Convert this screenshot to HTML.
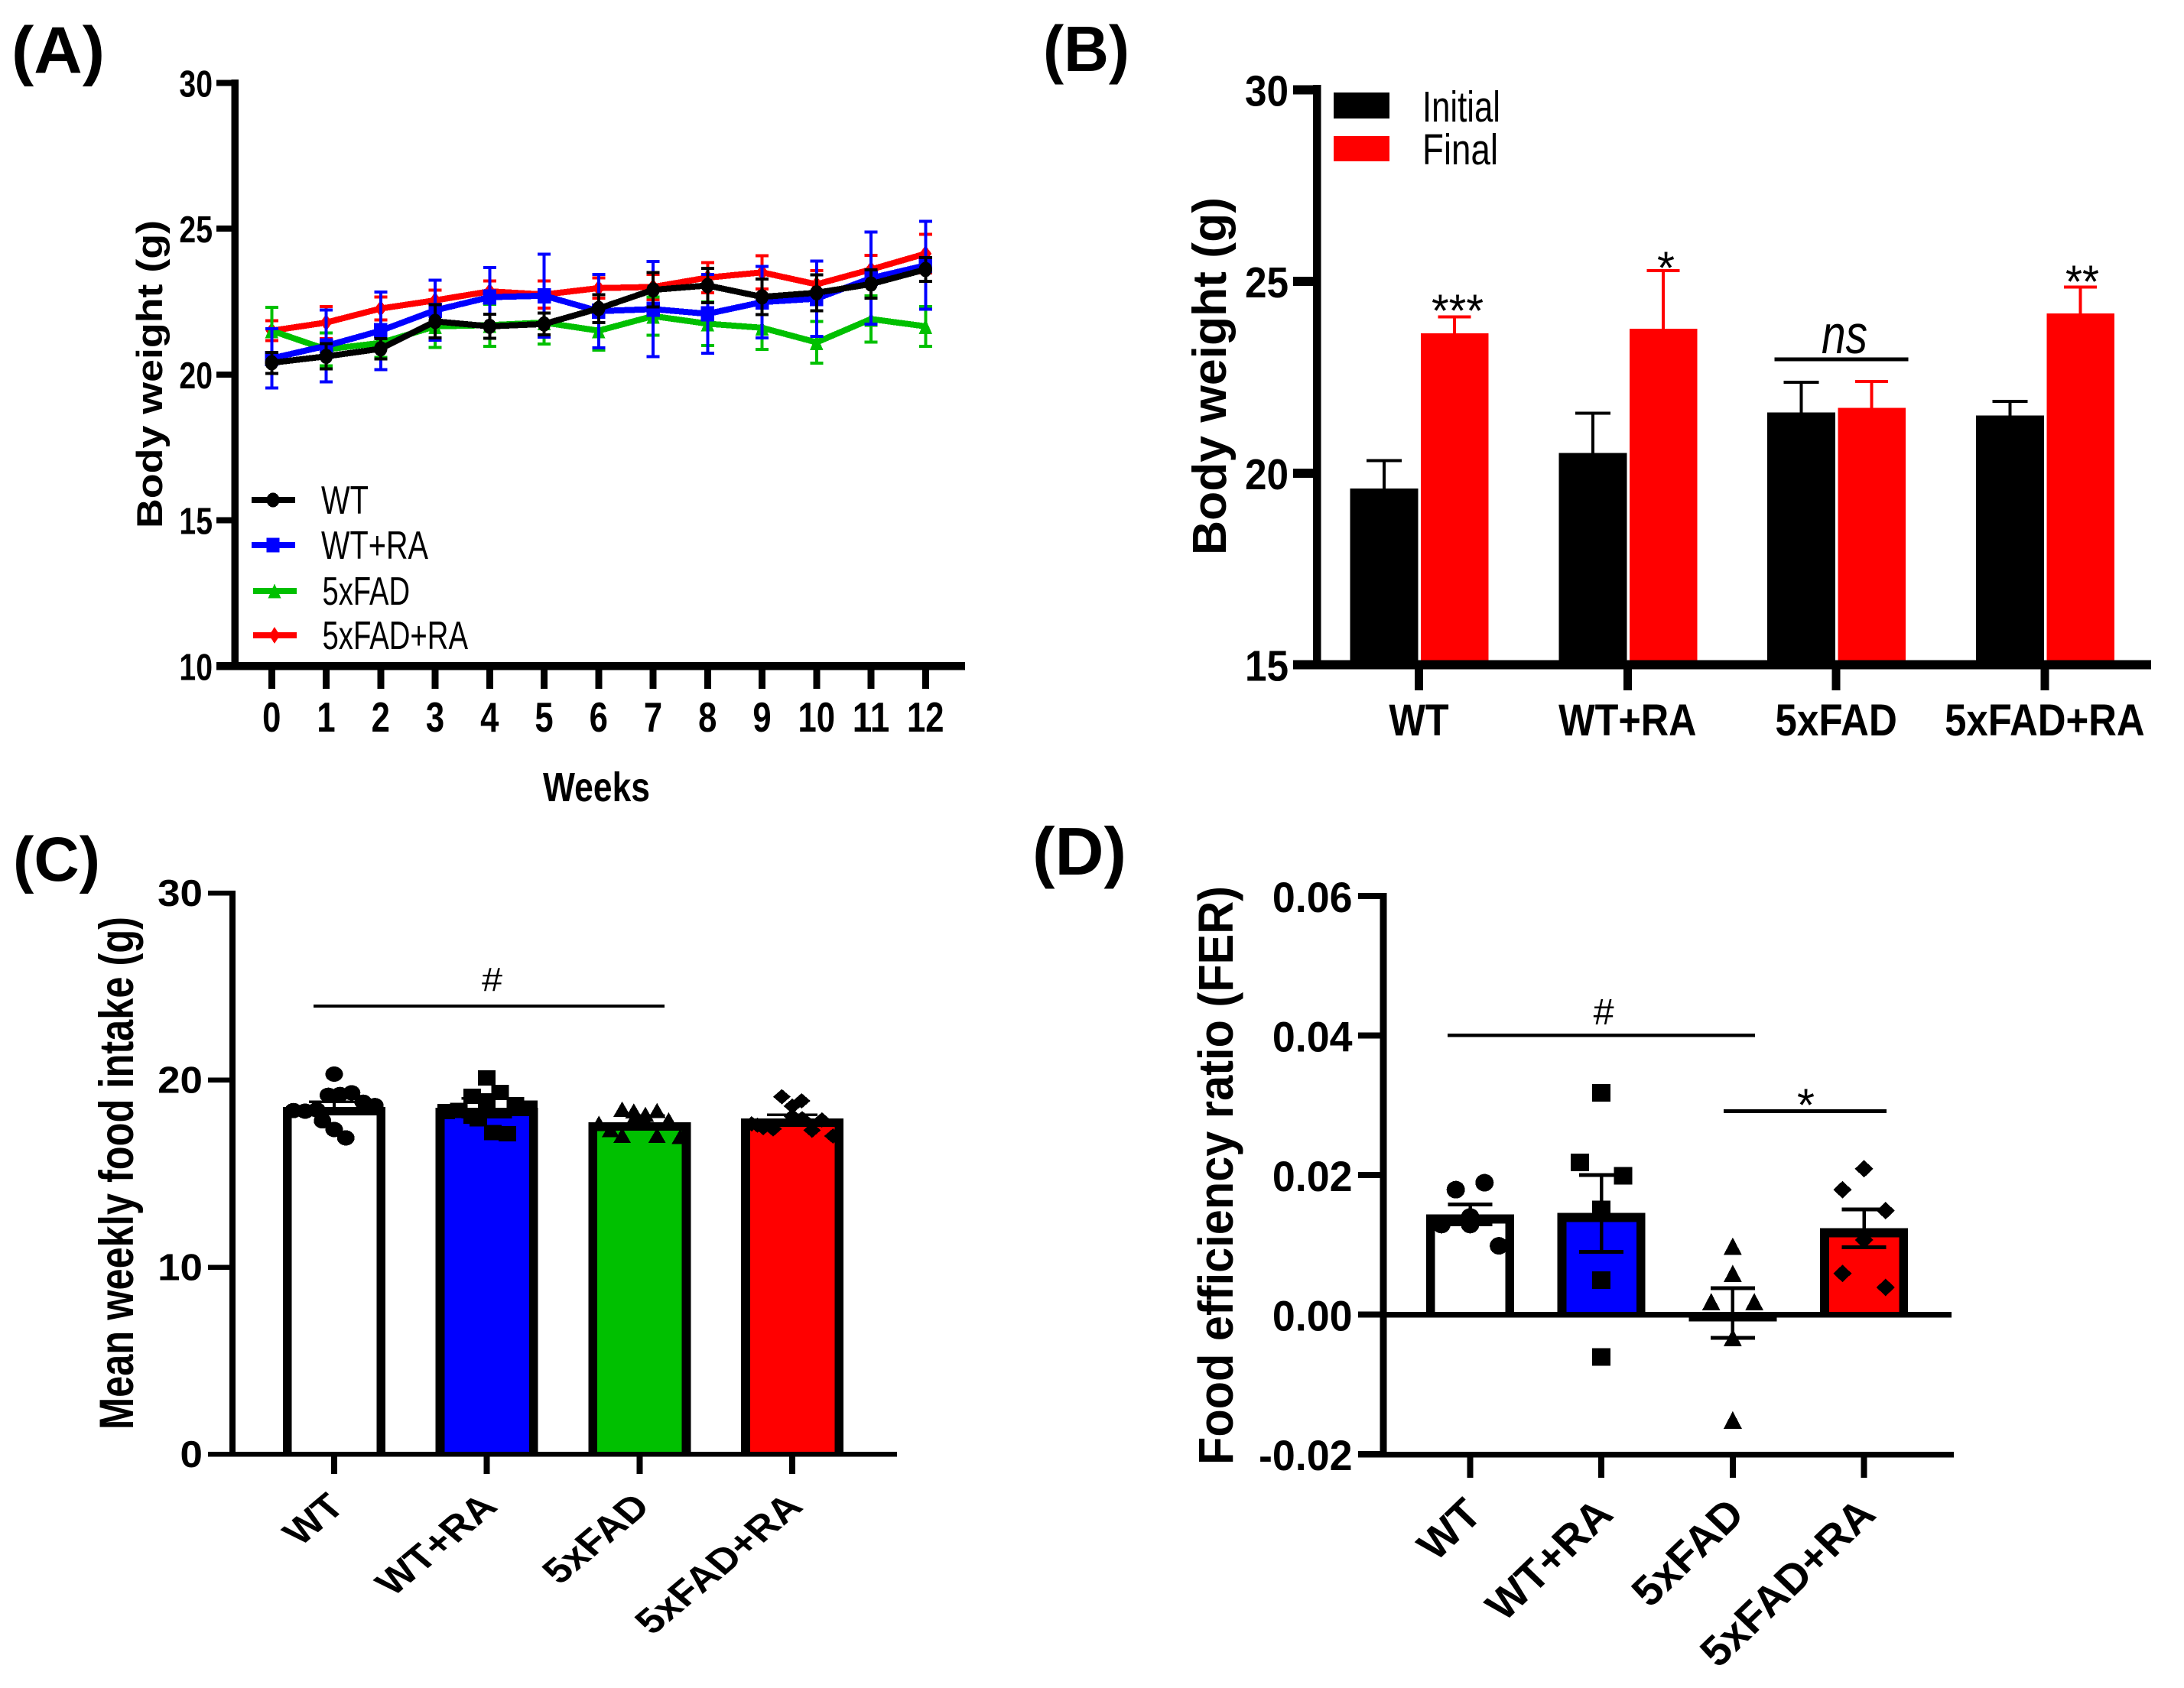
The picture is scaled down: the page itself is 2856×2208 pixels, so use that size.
<!DOCTYPE html>
<html lang="en">
<head>
<meta charset="utf-8">
<title>Body weight and food intake figure</title>
<style>
html,body{margin:0;padding:0;background:#fff;}
svg{display:block;shape-rendering:crispEdges;}
text{font-family:"Liberation Sans",sans-serif;fill:#000;}
.b{font-weight:700;}
</style>
</head>
<body>
<svg id="figure" xmlns="http://www.w3.org/2000/svg" width="2856" height="2208" viewBox="0 0 2856 2208">
<rect x="0" y="0" width="2856" height="2208" fill="#fff"/>

<g id="panelA">
  <text class="b" x="15" y="95" font-size="86" textLength="122" lengthAdjust="spacingAndGlyphs">(A)</text>
  <text class="b" transform="translate(212,691) rotate(-90)" font-size="47" textLength="403" lengthAdjust="spacingAndGlyphs">Body weight (g)</text>
  <text class="b" x="710" y="1048" font-size="54" textLength="140" lengthAdjust="spacingAndGlyphs">Weeks</text>
</g>
<g id="panelB">
  <text class="b" x="1364" y="93" font-size="84" textLength="113" lengthAdjust="spacingAndGlyphs">(B)</text>
  <text class="b" transform="translate(1603,726) rotate(-90)" font-size="62" textLength="468" lengthAdjust="spacingAndGlyphs">Body weight (g)</text>
</g>
<g id="panelC">
  <text class="b" x="17" y="1152" font-size="82" textLength="114" lengthAdjust="spacingAndGlyphs">(C)</text>
  <text class="b" transform="translate(174,1870) rotate(-90)" font-size="63" textLength="671" lengthAdjust="spacingAndGlyphs">Mean weekly food intake (g)</text>
</g>
<g id="panelD">
  <text class="b" x="1350" y="1144" font-size="88" textLength="123" lengthAdjust="spacingAndGlyphs">(D)</text>
  <text class="b" transform="translate(1612,1916) rotate(-90)" font-size="64" textLength="757" lengthAdjust="spacingAndGlyphs">Food efficiency ratio (FER)</text>
</g>
</svg>

<script>
// ---- Panel A data ----
const weeks = [0,1,2,3,4,5,6,7,8,9,10,11,12];
const weightTicksA = [10,15,20,25,30];
const wtWeight = [20.4,20.62,20.88,21.82,21.65,21.73,22.26,22.9,23.05,22.66,22.8,23.1,23.6];
const wtWeightSem = [.36,.43,.35,.57,.41,.37,.48,.59,.59,.61,.61,.49,.41];
const wtRaWeight = [20.55,20.98,21.5,22.2,22.65,22.7,22.17,22.24,22.08,22.48,22.6,23.3,23.74];
const wtRaWeightSem = [1.02,1.23,1.33,1.03,1.02,1.42,1.26,1.63,1.35,1.23,1.29,1.58,1.51];
const fadWeight = [21.5,20.86,21.08,21.65,21.69,21.78,21.5,22.0,21.74,21.6,21.1,21.9,21.65];
const fadWeightSem = [.8,.56,.5,.72,.72,.74,.66,.66,.75,.74,.71,.79,.68];
const fadRaWeight = [21.5,21.78,22.26,22.54,22.85,22.74,22.96,23.0,23.32,23.5,23.09,23.6,24.14];
const fadRaWeightSem = [.34,.55,.39,.35,.36,.46,.35,.43,.52,.57,.47,.49,.66];

// ---- Panel B data ----
const groupsB = ['WT','WT+RA','5xFAD','5xFAD+RA'];
const weightTicksB = [15,20,25,30];
const initialWeight = [19.6,20.53,21.58,21.5];
const initialSem = [.73,1.03,.79,.37];
const finalWeight = [23.65,23.77,21.7,24.17];
const finalSem = [.43,1.51,.69,.68];

// ---- Panel C data ----
const groupsC = ['WT','WT+RA','5xFAD','5xFAD+RA'];
const intakeTicks = [0,10,20,30];
const intakeMeans = [18.55,18.51,17.74,17.94];
const intakeSem = [.27,.5,.35,.2];
const intakeWt = [20.31,19.18,19.31,19.22,18.81,18.63,18.36,18.33,18.4,17.81,17.35,16.9];
const intakeWtSlots = [0,-1,3,1,5,7,-7,-5,-3,-2,0,2];
const intakeWtRa = [20.1,19.12,19.33,18.88,18.68,18.5,18.31,18.36,18.06,17.93,17.18,17.13];
const intakeWtRaSlots = [0,-2.5,2.3,0,4.9,7.2,-7,-4.8,-2.5,-1.5,1,3.5];
const intakeFad = [18.44,18.34,18.16,18.36,17.86,17.68,17.34,17.04,17.04,16.97,17.93,17.79];
const intakeFadSlots = [-3,-1,1,3,5,-7,-5,-3,3,7,-1,1];
const intakeFadRa = [19.1,18.88,18.6,17.65,17.45,17.38,17.93,17.31,17.86,17.0,18.06,17.58];
const intakeFadRaSlots = [-1.8,1.6,0,-7,-5,-3.3,1.7,3.4,5.1,7,0,-6];

// ---- Panel D data ----
const groupsD = ['WT','WT+RA','5xFAD','5xFAD+RA'];
const ferTicks = ['-0.02','0.00','0.02','0.04','0.06'];
const ferMeans = [.01437,.0146,-.001,.0124];
const ferUpper = [.01576,.0200,.00381,.0151];
const ferLower = [.01295,.00902,-.00332,.00964];
const ferWt = [.0179,.0189,.0140,.0129,.0129,.00986];
const ferWtSlots = [-1,1,0,-2,0,2];
const ferWtRa = [.0318,.0218,.0199,.0151,.00495,-.00608];
const ferWtRaSlots = [0,-1.5,1.5,0,0,0];
const ferFad = [.0098,.0059,.00185,.00185,-.0033,-.0151];
const ferFadSlots = [0,0,-1.5,1.5,0,0];
const ferFadRa = [.0209,.0179,.0149,.0107,.0059,.0039];
const ferFadRaSlots = [0,-1.5,1.5,0,-1.5,1.5];

// ---- Axis functions ----
const xA = w => 355.3 + 71.25 * w;
const yA = v => 871.3 - (v - 10) * 38.15;
const xB = i => 1855.5 + 272.8 * i;
const yB = v => 869.5 - (v - 15) * 50.13;
const xC = i => 437 + 199.7 * i;
const yC = v => 1902 - v * 24.47;
const xD = i => 1922.5 + 171.7 * i;
const yD = v => 1719.6 - v * 9128;

const SVGNS = 'http://www.w3.org/2000/svg';
const BLACK = '#000000', BLUE = '#0000ff', GREEN = '#00c000', RED = '#ff0000';

function make(parent, tag, name, attrs) {
  const el = document.createElementNS(SVGNS, tag);
  
  
  for (const k in attrs) el.setAttribute(k, attrs[k]);
  parent.appendChild(el);
  return el;
}
function box(parent, name, x, y, w, h, fill) {
  return make(parent, 'rect', name, {x: x, y: y, width: w, height: h, fill: fill});
}
function label(parent, name, x, y, str, size, len, extra) {
  const a = Object.assign({x: x, y: y, 'font-size': size}, extra || {});
  if (len) { a.textLength = len; a.lengthAdjust = 'spacingAndGlyphs'; }
  const el = make(parent, 'text', name, a);
  el.textContent = str;
  return el;
}
const charW = {'.':.278,'-':.333,'W':.944,'T':.611,'+':.584,'R':.722,'A':.722,'F':.611,'D':.722};
function nominal(str) {
  let s = 0;
  for (const c of String(str)) s += (charW[c] !== undefined ? charW[c] : .556);
  return s;
}
function marker(parent, kind, name, cx, cy, hw, hh, fill) {
  if (kind === 'circle') {
    return make(parent, 'ellipse', name, {cx: cx, cy: cy, rx: hw, ry: hh, fill: fill});
  }
  if (kind === 'square') {
    return make(parent, 'rect', name, {x: cx - hw, y: cy - hh, width: 2 * hw, height: 2 * hh, fill: fill});
  }
  if (kind === 'triangle') {
    return make(parent, 'polygon', name, {points: [cx, cy - hh, cx + hw, cy + hh, cx - hw, cy + hh].join(' '), fill: fill});
  }
  return make(parent, 'polygon', name, {points: [cx, cy - hh, cx + hw, cy, cx, cy + hh, cx - hw, cy].join(' '), fill: fill});
}
function errorBar(parent, name, cx, yHigh, yLow, capW, capT, stemW, color, upperOnly) {
  box(parent, name + '-stem', cx - stemW / 2, yHigh, stemW, yLow - yHigh, color);
  box(parent, name + '-cap-top', cx - capW / 2, yHigh - capT / 2, capW, capT, color);
  if (!upperOnly) box(parent, name + '-cap-bottom', cx - capW / 2, yLow - capT / 2, capW, capT, color);
}

// ================ Panel A ================
(function () {
  const g = document.getElementById('panelA');
  box(g, 'y-axis-line', 302.5, 104, 9.5, 772, BLACK);
  box(g, 'x-axis-line', 283, 866, 979, 10.5, BLACK);
  weightTicksA.forEach(function (t) {
    box(g, 'y-tick', 283, yA(t) - 4, 22, 8, BLACK);
    const w = nominal(t) * 49 * .8;
    label(g, 'y-tick-label', 278 - w, yA(t) + 18, t, 49, w, {class: 'b'});
  });
  weeks.forEach(function (t) {
    box(g, 'x-tick', xA(t) - 4.5, 871, 9, 30, BLACK);
    const w = nominal(t) * 54.5 * .8;
    label(g, 'x-tick-label', xA(t) - w / 2, 957, t, 54.5, w, {class: 'b'});
  });
  const series = [
    {name: 'fad-ra', kind: 'diamond', hw: 8, hh: 11, color: RED, v: fadRaWeight, e: fadRaWeightSem},
    {name: 'fad', kind: 'triangle', hw: 8.7, hh: 10, color: GREEN, v: fadWeight, e: fadWeightSem},
    {name: 'wt-ra', kind: 'square', hw: 8.7, hh: 10, color: BLUE, v: wtRaWeight, e: wtRaWeightSem},
    {name: 'wt', kind: 'circle', hw: 8.7, hh: 10, color: BLACK, v: wtWeight, e: wtWeightSem}
  ];
  series.forEach(function (s) {
    const sg = make(g, 'g', 'series-' + s.name, {});
    weeks.forEach(function (w, i) {
      errorBar(sg, 'error-bar', xA(w), yA(s.v[i] + s.e[i]), yA(s.v[i] - s.e[i]), 17, 4, 4, s.color);
    });
    make(sg, 'polyline', 'line-' + s.name, {
      points: weeks.map(function (w, i) { return xA(w) + ',' + yA(s.v[i]); }).join(' '),
      fill: 'none', stroke: s.color, 'stroke-width': 8
    });
    weeks.forEach(function (w, i) {
      marker(sg, s.kind, 'point', xA(w), yA(s.v[i]), s.hw, s.hh, s.color);
    });
  });
  const legend = make(g, 'g', 'legend', {});
  const rows = [
    {t: 'WT', y: 654, x0: 329, tx: 420, base: 672, len: 62, kind: 'circle', color: BLACK},
    {t: 'WT+RA', y: 713, x0: 329, tx: 420, base: 731, len: 140, kind: 'square', color: BLUE},
    {t: '5xFAD', y: 773, x0: 331, tx: 421.5, base: 791, len: 114.5, kind: 'triangle', color: GREEN},
    {t: '5xFAD+RA', y: 831, x0: 331, tx: 421.5, base: 849, len: 190.5, kind: 'diamond', color: RED}
  ];
  rows.forEach(function (r) {
    box(legend, 'legend-line', r.x0, r.y - 4, 57, 8, r.color);
    marker(legend, r.kind, 'legend-marker', r.x0 + 28, r.y, r.kind === 'diamond' ? 7 : 8.5, r.kind === 'diamond' ? 11 : 9.5, r.color);
    label(legend, 'legend-entry', r.tx, r.base, r.t, 52, r.len);
  });
})();

// ================ Panel B ================
(function () {
  const g = document.getElementById('panelB');
  groupsB.forEach(function (name, i) {
    const c = xB(i);
    box(g, 'bar-initial', c - 90, yB(initialWeight[i]), 89, 869.5 - yB(initialWeight[i]), BLACK);
    box(g, 'bar-final', c + 2.5, yB(finalWeight[i]), 88.5, 869.5 - yB(finalWeight[i]), RED);
    errorBar(g, 'error-bar-initial', c - 45.5, yB(initialWeight[i] + initialSem[i]), yB(initialWeight[i]), 46, 4, 4, BLACK, true);
    errorBar(g, 'error-bar-final', c + 46.5, yB(finalWeight[i] + finalSem[i]), yB(finalWeight[i]), 43, 4, 4, RED, true);
    box(g, 'x-tick', c - 5.5, 870, 11, 33, BLACK);
    const w = nominal(name) * 53 * .95;
    label(g, 'x-tick-label', c - w / 2, 962, name, 58, w, {class: 'b'});
  });
  box(g, 'y-axis-line', 1717, 111, 10.7, 764, BLACK);
  box(g, 'x-axis-line', 1691, 863.5, 1122, 12, BLACK);
  weightTicksB.forEach(function (t) {
    box(g, 'y-tick', 1691, yB(t) - 6, 28, 12, BLACK);
    const w = nominal(t) * 57 * .9;
    label(g, 'y-tick-label', 1685 - w, yB(t) + 21, t, 57, w, {class: 'b'});
  });
  const legend = make(g, 'g', 'legend', {});
  box(legend, 'legend-swatch-initial', 1744, 121, 73, 34, BLACK);
  box(legend, 'legend-swatch-final', 1744, 178, 73, 33, RED);
  label(legend, 'legend-entry', 1860, 159, 'Initial', 56.5, 102);
  label(legend, 'legend-entry', 1860, 215, 'Final', 56.5, 99);
  label(g, 'significance-wt', 1872, 427, '***', 60, 68);
  label(g, 'significance-wt-ra', 2167, 371, '*', 60, 23);
  label(g, 'significance-fad-ra', 2701, 389, '**', 60, 44);
  label(g, 'significance-fad', 2382, 462, 'ns', 71, 60, {'font-style': 'italic'});
  box(g, 'significance-line', 2320.6, 467.5, 175, 5, BLACK);
})();

// ================ Panels C and D shared bars ================
function swarmBars(g, opts) {
  opts.means.forEach(function (m, i) {
    const c = opts.x(i);
    const top = Math.min(opts.y(m), opts.y0);
    const bot = Math.max(opts.y(m), opts.y0);
    box(g, 'bar-' + opts.names[i], c - opts.w / 2, top, opts.w, bot - top, BLACK);
    const innerH = bot - top - opts.sy;
    if (innerH > 0 && opts.y(m) < opts.y0) {
      box(g, 'bar-fill-' + opts.names[i], c - opts.w / 2 + opts.sx, top + opts.sy, opts.w - 2 * opts.sx, innerH, opts.fills[i]);
    }
  });
}

// ================ Panel C ================
(function () {
  const g = document.getElementById('panelC');
  const fills = ['#ffffff', BLUE, GREEN, RED];
  swarmBars(g, {means: intakeMeans, x: xC, y: yC, y0: 1902, w: 134, sx: 11.7, sy: 11, fills: fills, names: ['wt','wt-ra','fad','fad-ra']});
  box(g, 'y-axis-line', 300, 1165, 8, 740, BLACK);
  box(g, 'x-axis-line', 272, 1899, 901, 6.5, BLACK);
  intakeTicks.forEach(function (t) {
    box(g, 'y-tick', 272, yC(t) - 3, 30, 6.5, BLACK);
    const w = nominal(t) * 49 * 1.08;
    label(g, 'y-tick-label', 265 - w, yC(t) + 17, t, 49, w, {class: 'b'});
  });
  groupsC.forEach(function (name, i) {
    box(g, 'x-tick', xC(i) - 4, 1902, 8, 26, BLACK);
    label(g, 'x-tick-label', 0, 0, name, 46, 0, {class: 'b', 'text-anchor': 'end',
      transform: 'translate(' + (xC(i) + 16) + ',1973) scale(1.19,1) rotate(-45)'});
  });
  intakeMeans.forEach(function (m, i) {
    errorBar(g, 'error-bar', xC(i), yC(m + intakeSem[i]), yC(m - intakeSem[i]), 66, 3.5, 4, BLACK);
  });
  const groups = [
    {v: intakeWt, s: intakeWtSlots, kind: 'circle'},
    {v: intakeWtRa, s: intakeWtRaSlots, kind: 'square'},
    {v: intakeFad, s: intakeFadSlots, kind: 'triangle'},
    {v: intakeFadRa, s: intakeFadRaSlots, kind: 'diamond'}
  ];
  groups.forEach(function (gr, i) {
    gr.v.forEach(function (v, j) {
      marker(g, gr.kind, 'data-point', xC(i) + gr.s[j] * 7.6, yC(v), 11.5, 10, BLACK);
    });
  });
  box(g, 'significance-line', 410, 1314, 459, 4, BLACK);
  label(g, 'significance-hash', 630, 1296, '#', 44, 27);
})();

// ================ Panel D ================
(function () {
  const g = document.getElementById('panelD');
  const fills = ['#ffffff', BLUE, GREEN, RED];
  swarmBars(g, {means: ferMeans, x: xD, y: yD, y0: yD(0), w: 115, sx: 11.7, sy: 12, fills: fills, names: ['wt','wt-ra','fad','fad-ra']});
  box(g, 'y-axis-line', 1804.3, 1168, 9, 738, BLACK);
  box(g, 'zero-line', 1776, 1716, 776, 7.5, BLACK);
  box(g, 'x-axis-line', 1776, 1899, 779, 7.5, BLACK);
  ferTicks.forEach(function (t) {
    box(g, 'y-tick', 1776, yD(parseFloat(t)) - 4, 30, 8, BLACK);
    const w = nominal(t) * 56 * .96;
    label(g, 'y-tick-label', 1768.5 - w, yD(parseFloat(t)) + 21, t, 56, w, {class: 'b'});
  });
  groupsD.forEach(function (name, i) {
    box(g, 'x-tick', xD(i) - 4, 1902, 8, 31, BLACK);
    label(g, 'x-tick-label', 0, 0, name, 55, 0, {class: 'b', 'text-anchor': 'end',
      transform: 'translate(' + (xD(i) + 18) + ',1983.5) scale(1.043,1) rotate(-45)'});
  });
  ferMeans.forEach(function (m, i) {
    errorBar(g, 'error-bar', xD(i), yD(ferUpper[i]), yD(ferLower[i]), 58, 5, 4.5, BLACK);
  });
  const groups = [
    {v: ferWt, s: ferWtSlots, kind: 'circle'},
    {v: ferWtRa, s: ferWtRaSlots, kind: 'square'},
    {v: ferFad, s: ferFadSlots, kind: 'triangle'},
    {v: ferFadRa, s: ferFadRaSlots, kind: 'diamond'}
  ];
  groups.forEach(function (gr, i) {
    gr.v.forEach(function (v, j) {
      marker(g, gr.kind, 'data-point', xD(i) + gr.s[j] * 18.8, yD(v), 12, 11.5, BLACK);
    });
  });
  box(g, 'significance-line-hash', 1893, 1352, 402, 4.5, BLACK);
  label(g, 'significance-hash', 2083.6, 1340, '#', 48, 27);
  box(g, 'significance-line-star', 2254, 1451, 213, 5, BLACK);
  label(g, 'significance-star', 2350, 1466, '*', 60, 23);
})();
</script>
</body>
</html>
